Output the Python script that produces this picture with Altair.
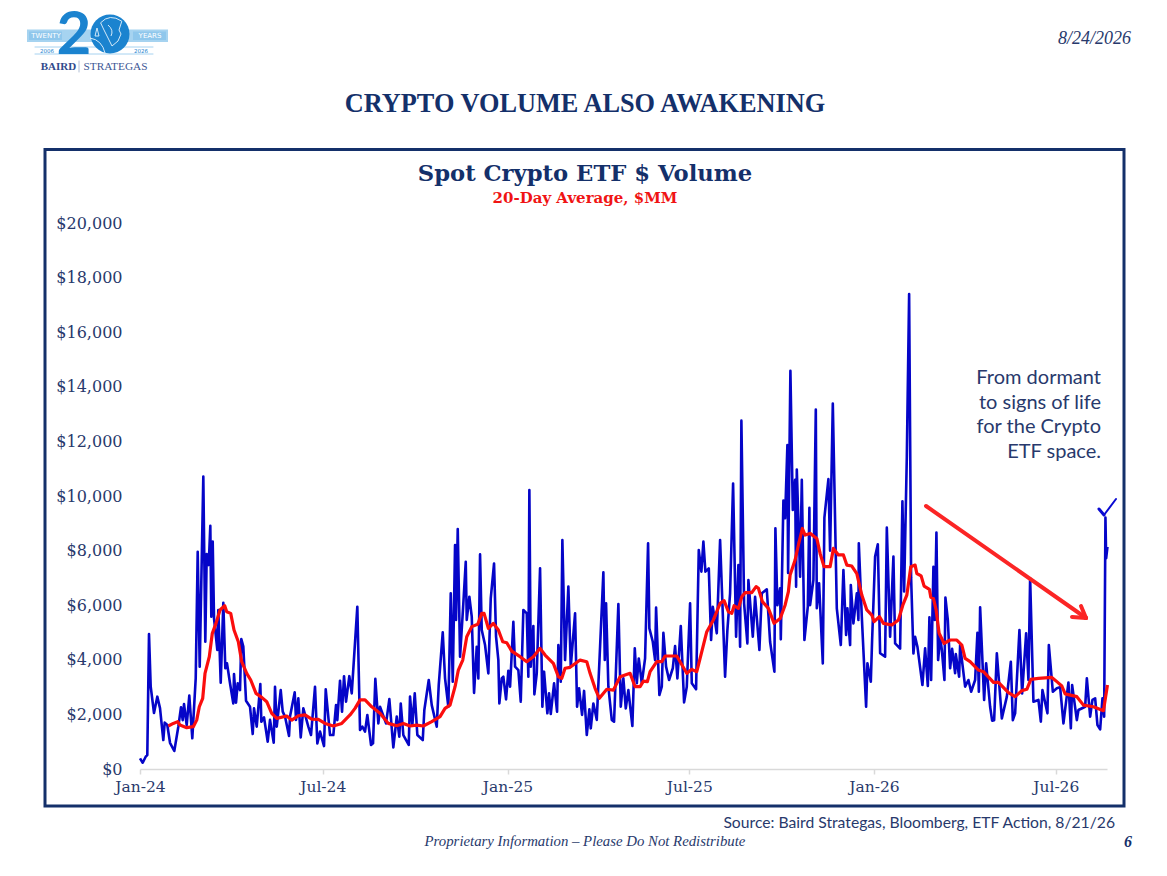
import altair as alt
import pandas as pd

# Chart position along the time axis, in axis units from Jan-24, and $MM volume
volume_2024_h1 = [(0,390),(2.7,230),(5.7,450),(7.3,510),(9,4945),(10.7,3015),(14,2050),(17.3,2650),(20,2230),(23.3,1060),(24.7,1700),(27.3,1610),(30,960),(34.3,660),(38.3,1550),(41,2260),(42.7,1790),(44,2380),(46.7,1610),(49.3,2690),(52.3,1125),(55.7,3320),(57.7,7960),(59.7,3750),(63.3,10710),(65.3,4660),(66.7,7875),(68.7,7470),(70.3,8910),(71.3,5580),(72.7,8330),(74,5520),(77.3,4360),(78.3,5820),(80.7,3160),(83.3,6090),(85.3,3690),(87,3870),(90,3140),(93.3,2400),(94,3480),(96,2430),(97.7,3140),(100,2890),(101.3,4760),(103.3,4480),(106,2500),(110,2280),(112.7,1280),(114,2220),(116.7,1550),(120.3,3110),(121.3,1730),(124,1890),(127.7,1000),(130,1800),(133.7,960),(135,3015),(136.7,1550),(140.7,2890),(142.7,2100),(145,1920),(149,1210),(150,1920),(154.7,2810),(156,1800),(158.3,2590),(160.7,1160),(163.3,2220),(168.3,1550),(171,1245),(175,3015),(177.3,940),(180,1370)]
volume_2024_h2 = [(184,840),(185.7,2920),(190,1245),(193.3,1245),(196,2340),(197.3,1790),(200,3235),(202,2100),(204,3400),(206,2465),(209.3,3400),(211.7,2770),(217.3,5945),(220,1430),(222.3,1550),(225,1370),(227.3,1980),(231,880),(233,940),(235.3,3300),(238.3,1670),(240,2280),(246,1670),(249.3,2560),(253.3,790),(256.7,1920),(259.3,1180),(260.7,2400),(263.3,1245),(268.7,880),(270,2650),(272.3,1610),(274.7,2770),(277.3,1245),(282.7,1060),(284.3,2160),(288.7,3260),(291.7,2340),(296.7,1550),(298.7,3080),(302.7,5005),(305,3320),(308.3,2280),(310.7,6435),(312.7,3200),(315,8205),(316,5460),(317.7,8790),(320,4115),(323.3,6070),(325.7,7590),(326.7,5460),(329.3,6310),(331.7,5580),(334,2790),(336.7,4480),(338.3,3320),(340,7860),(341.7,5090),(345,4540),(348.3,3500),(350.7,6250),(354,7530),(356,4845),(358.3,3990),(359.3,2400),(361.7,3320),(363.3,3380)]
volume_2025_h1 = [(366,2550),(368.3,3600),(370,3015),(373.3,5395),(375,3750),(378.3,3625),(380.7,2465),(383.3,5825),(386.7,5700),(388.3,3380),(389.3,10220),(390.7,3750),(393.3,5240),(394.3,2735),(396.7,3505),(400,7350),(402.3,2280),(404,3565),(407.3,2040),(409,2770),(410.7,2015),(414,3140),(417,2100),(418.3,4540),(420.7,3200),(422.3,8390),(425,3990),(428.3,6680),(430.7,3750),(435,5700),(437,2280),(439,2955),(442,1980),(444,2860),(446.7,1245),(449.3,2185),(450.7,1490),(453.3,2400),(456.7,1800),(460,4480),(463.3,7205),(464.7,3990),(466,6070),(468.3,3015),(471.7,1800),(474,1735),(478.3,6040),(480.7,2280),(483.3,3320),(485.7,2220),(488.3,2890),(492.3,1575),(494.7,4420),(496.7,3140),(498.7,4050),(501.7,3140),(505,4050),(508,8270),(509.3,5150),(512.7,4660),(515,3990),(516,5910),(519.3,2710),(521.7,3015),(523.3,4990),(526,3750),(529,3260),(532.7,3690),(535,4505),(537.3,3320),(540.7,5240),(544,2440)]
volume_2025_h2 = [(546.7,3015),(550,6070),(551.7,3140),(556,2920),(558.7,8020),(561.3,7230),(563.3,8330),(565.3,7230),(568.7,7350),(571,4725),(572.7,5945),(576.7,4970),(580,8390),(585,3380),(587.3,5090),(590,6435),(593,10460),(596,4845),(598.3,7470),(600,4480),(601.3,12760),(604,6070),(607.3,4600),(608.3,6920),(612.7,4845),(615,6310),(619.3,4360),(621.7,6435),(626.7,6580),(630,4660),(634.3,3565),(635.3,8815),(637.3,6000),(640,6620),(640.7,4750),(643.3,9830),(645,9190),(647.3,11870),(648,7180),(650.3,14590),(652.7,9490),(655,10590),(656,6680),(656.7,10970),(660,7040),(661.7,10590),(664.3,4725),(667.7,5945),(669.3,9570),(670,6000),(673.3,6920),(675.7,13170),(676.7,5890),(679,6800),(682.7,3870),(684.3,9210),(688.3,10620),(690,8000),(692.7,13390),(696.7,5885),(700.7,4540),(703.3,7290),(706,4910),(707.3,5890),(710,4540),(710.7,6740),(713.3,5335),(716.7,6435),(718.3,5460),(718.7,8270),(721.7,5580),(726,2280),(727.3,3870),(730.7,3200)]
volume_2026 = [(732,4725),(735,7780),(737.7,8230),(740,4240),(745,4115),(746.7,8840),(750,4845),(753.3,7780),(755,4600),(760,4410),(762.3,9810),(764,6500),(766.7,11440),(769,17400),(771,7000),(773.3,4230),(775,4845),(777.3,4480),(782.3,3075),(785,4420),(787.7,3040),(789.3,5555),(791,3260),(793.3,7410),(794.7,5460),(796.3,8660),(798,3990),(800,4845),(801.7,4360),(804.3,3260),(805.3,6280),(807.7,5460),(810,3690),(812,4400),(815,3505),(815.7,4210),(819,3380),(820,4540),(825,3015),(828.3,3260),(831,2830),(835,3260),(837.3,4990),(838.7,2830),(840,5920),(844,2530),(846,3870),(850,2280),(852,1770),(854,1790),(856.7,4240),(861.7,1855),(866.7,2650),(870.7,3930),(872.7,1790),(875,2040),(879.3,5090),(882,2770),(886,4970),(888.3,3260),(890,6985),(893.3,2465),(898.3,2530),(900.7,1735),(902.3,2890),(907.3,2040),(908.7,4540),(912.7,2830),(916.7,2955),(920,3000),(923.3,1670),(928.3,3170),(930.7,1490),(932,3075),(936.7,1790),(938.3,2160),(945,2280),(946.7,3320),(950,1920),(952.3,2530),(955,2590),(957.3,1610),(960,1450),(962.3,2590),(964,1920),(965.3,9210),(966,7720),(967.3,8140)]

average_2024 = [(28.3,1575),(33.3,1670),(37.7,1735),(40,1610),(46.7,1515),(53.3,1550),(56.7,1790),(59.3,2280),(62.7,2590),(65,3505),(69.3,4115),(72.3,4970),(76,5335),(80,5825),(84.7,5980),(86.7,5760),(90.7,5700),(94,5090),(98.3,4660),(101.7,3930),(106.7,3505),(110.7,3260),(116,2770),(121.7,2625),(126.7,2465),(131.7,2040),(136.7,1855),(146.7,1940),(151.7,1790),(158.3,1950),(165,1980),(171.7,1830),(178.3,1820),(185,1670),(193.3,1575),(201.7,1670),(210,1980),(215,2220),(220,2530),(225,2530),(231.7,2280),(240,2040),(248.3,1670),(256.7,1585),(263.3,1670),(270,1575),(276.7,1610),(283.3,1575),(291.7,1735),(300,1920),(305,2220),(310,2340),(315,3015),(318.3,3625),(322.7,3990),(326.7,4845),(331.7,5215),(337.7,5300),(341.7,5700),(344,5700),(348.3,5150),(353.3,5335),(358.3,5090),(362.7,4660)]
average_2025 = [(366.7,4625),(371.7,4320),(380,4115),(386.7,3930),(393.3,4115),(400,4420),(405,4175),(413.3,3870),(418.3,3380),(421.7,3320),(425,3690),(430,3725),(440,3990),(446.7,3930),(450,3505),(455,2955),(459.3,2590),(466.7,2920),(473.3,2890),(480,3380),(490,3505),(495,3015),(500,3015),(503.3,3220),(507.3,3200),(510,3565),(516.7,3930),(521.7,3930),(525,4140),(536.7,4140),(540,3930),(546.7,3505),(551.7,3650),(556.7,3565),(561.7,4300),(566.7,5030),(573.3,5460),(580,6070),(584,6165),(588.3,5760),(591.7,5700),(594,5980),(598.3,5885),(601.7,6310),(605,6460),(611.7,6460),(616,6680),(618.3,6620),(622.3,6130),(628.3,5885),(634,5335),(640,5510),(645,6000),(648.3,6495),(650,7105),(655,7655),(658.3,8205),(662.3,8810),(665,8570),(670,8630),(676.7,8445),(680,7895),(684,7410),(690,7410),(693.3,8080),(698.3,7840),(703.3,7840),(706.7,7470),(711.7,7435),(716.7,7160),(721.7,6370),(726.7,5825),(731.7,5640)]
average_2026 = [(734,5395),(739.3,5580),(743.3,5335),(751.7,5275),(758.3,5460),(762.7,6000),(766.7,6370),(770.7,7410),(775,7470),(776.7,7160),(781,7075),(784,6700),(789.3,6580),(790.7,6290),(793.3,6250),(796,5825),(799,4970),(804,4600),(810,4725),(816.7,4725),(821.7,4540),(825,4050),(830,3930),(838.3,3625),(843.3,3565),(853.3,3170),(858.3,3170),(868.3,2795),(875,2650),(881.7,2870),(886.7,2920),(890.7,3285),(898.3,3320),(911.7,3355),(916.7,3200),(921.7,3040),(925,2750),(936.7,2650),(943.3,2340),(953.3,2280),(963.3,2135),(967.3,3075)]

y_ticks = list(range(0, 20001, 2000))
annotation_lines = ["From dormant", "to signs of life", "for the Crypto", "ETF space."]

NAVY = "#14306a"
TEXT_NAVY = "#28396c"
LOGO = "#1b83cf"
LOGO_LIGHT = "#a6d3f0"
AXIS_UNITS_PER_DAY = 1.004
START = pd.Timestamp("2024-01-01")


def frame(*segments):
    rows = [p for seg in segments for p in seg]
    return pd.DataFrame({
        "date": [START + pd.Timedelta(days=round(u / AXIS_UNITS_PER_DAY, 2)) for u, _ in rows],
        "value": [v for _, v in rows],
    })


x_enc = alt.X(
    "date:T",
    scale=alt.Scale(domain=[alt.DateTime(year=2024, month=1, date=1), alt.DateTime(year=2026, month=8, date=21)], nice=False),
    axis=alt.Axis(
        title=None, format="%b-%y", tickCount=alt.TickCount(interval="month", step=6), grid=False,
        labelFont="DejaVu Serif", labelFontSize=15.5, labelColor=TEXT_NAVY, labelPadding=5,
        labelAngle=0, labelOverlap=False, labelFlush=False,
        domainColor="#d9d9d9", domainWidth=1.5, tickColor="#d9d9d9", tickWidth=1.5, tickSize=5,
    ),
)
y_enc = alt.Y(
    "value:Q",
    scale=alt.Scale(domain=[0, 20000], nice=False),
    axis=alt.Axis(
        title=None, values=y_ticks, format="$,.0f", grid=False, domain=False, ticks=False,
        labelFont="DejaVu Serif", labelFontSize=16, labelColor=TEXT_NAVY, labelPadding=18,
    ),
)

volume = alt.Chart(frame(volume_2024_h1, volume_2024_h2, volume_2025_h1, volume_2025_h2, volume_2026)).mark_line(
    color="#0505c8", strokeWidth=2.6, strokeJoin="round"
).encode(x=x_enc, y=y_enc)
average = alt.Chart(frame(average_2024, average_2025, average_2026)).mark_line(
    color="#fb0d0d", strokeWidth=3.2, strokeJoin="round"
).encode(x=x_enc, y=y_enc)

OX, OY = 140, 223  # page position of the plot origin
EMPTY = alt.Data(values=[{}])


def label(text, px, py, size, color=TEXT_NAVY, font="Liberation Serif", align="center", **kw):
    return alt.Chart(EMPTY).mark_text(
        text=text, font=font, fontSize=size, color=color, align=align, baseline="middle", **kw
    ).encode(x=alt.value(px - OX), y=alt.value(py - OY))


def seg(x1, y1, x2, y2, color, width, cap="round"):
    return alt.Chart(EMPTY).mark_rule(color=color, strokeWidth=width, strokeCap=cap).encode(
        x=alt.value(x1 - OX), x2=alt.value(x2 - OX), y=alt.value(y1 - OY), y2=alt.value(y2 - OY)
    )


def box(x1, y1, x2, y2, **kw):
    return alt.Chart(EMPTY).mark_rect(**kw).encode(
        x=alt.value(x1 - OX), x2=alt.value(x2 - OX), y=alt.value(y1 - OY), y2=alt.value(y2 - OY)
    )


slide = [
    box(45, 149.5, 1124, 806, fillOpacity=0, stroke=NAVY, strokeWidth=3),
    label("CRYPTO VOLUME ALSO AWAKENING", 585, 103.5, 26.3, NAVY, fontWeight="bold"),
    label("Spot Crypto ETF $ Volume", 585, 174, 22.7, NAVY, font="DejaVu Serif", fontWeight="bold"),
    label("20-Day Average, $MM", 585, 197.5, 15, "#f01414", font="DejaVu Serif", fontWeight="bold"),
    label("8/24/2026", 1131, 39, 18, TEXT_NAVY, align="right", fontStyle="italic"),
    label("Source: Baird Strategas, Bloomberg, ETF Action, 8/21/26", 1115, 823, 15.7, TEXT_NAVY, font="Lato", align="right"),
    label("Proprietary Information – Please Do Not Redistribute", 585, 842, 14.8, TEXT_NAVY, fontStyle="italic"),
    label("6", 1128, 842, 16, NAVY, fontStyle="italic", fontWeight="bold"),
]
slide += [label(t, 1101, 378 + i * 24.6, 20, TEXT_NAVY, font="Lato", align="right") for i, t in enumerate(annotation_lines)]
arrow = [
    seg(926, 506, 1086, 618, "#fb2525", 4),
    seg(1072, 617, 1086, 618, "#fb2525", 4),
    seg(1081, 606, 1086, 618, "#fb2525", 4),
]
check = [seg(1099, 509, 1104, 515, "#0a0ad2", 3), seg(1104, 515, 1116, 499, "#0a0ad2", 2)]

helmet = (
    "M-0.47,-0.56 Q-0.02,-1.05 0.59,-0.64 L0.45,-0.2 L0.55,0 L0.4,0.35 L0.1,0.6 L-0.1,0.2 L-0.3,-0.2 Z "
    "M-1,0.2 Q-0.4,0.3 -0.25,0.95 M-0.65,-0.3 L-0.55,0.1 L-0.75,0.1 Z M-0.1,-0.45 Q0.2,-0.2 0.05,0.1"
)
logo = [
    box(27, 29.5, 168, 42, color=LOGO_LIGHT),
    box(29, 31.5, 62, 40, color="#8fc7ec"),
    box(133, 31.5, 166, 40, color="#8fc7ec"),
    label("TWENTY", 46, 36, 7, "#ffffff", font="DejaVu Sans"),
    label("YEARS", 150, 36, 7, "#ffffff", font="DejaVu Sans"),
    seg(35, 47, 153, 47, "#8fc7ec", 0.8),
    seg(35, 54, 153, 54, "#8fc7ec", 0.8),
    label("2006", 47, 50.7, 5.5, LOGO, font="DejaVu Sans"),
    label("2026", 141, 50.7, 5.5, LOGO, font="DejaVu Sans"),
    label("2", 74, 36, 60, LOGO, font="Lato", fontWeight="bold"),
    alt.Chart(EMPTY).mark_circle(color=LOGO, opacity=1, size=1520).encode(x=alt.value(110 - OX), y=alt.value(34 - OY)),
    alt.Chart(EMPTY).mark_point(shape=helmet, filled=False, color="#e8f4fc", strokeWidth=0.9, opacity=1, size=1600).encode(
        x=alt.value(110 - OX), y=alt.value(34 - OY)
    ),
    label("BAIRD", 58.5, 67, 11, "#2f4a8c", fontWeight="bold"),
    seg(79, 61, 79, 72, "#9fb0cc", 0.8),
    label("STRATEGAS", 115.5, 67, 11.3, "#3d5896"),
]

chart = alt.layer(volume, average, *slide, *arrow, *check, *logo).properties(
    width=967, height=546,
    padding={"left": 132, "top": 215, "right": 40, "bottom": 85},
    autosize=alt.AutoSizeParams(type="none", contains="content"),
    background="#ffffff",
).configure_view(stroke=None)

chart.save("out.html", embed_options={"renderer": "svg", "actions": False})
